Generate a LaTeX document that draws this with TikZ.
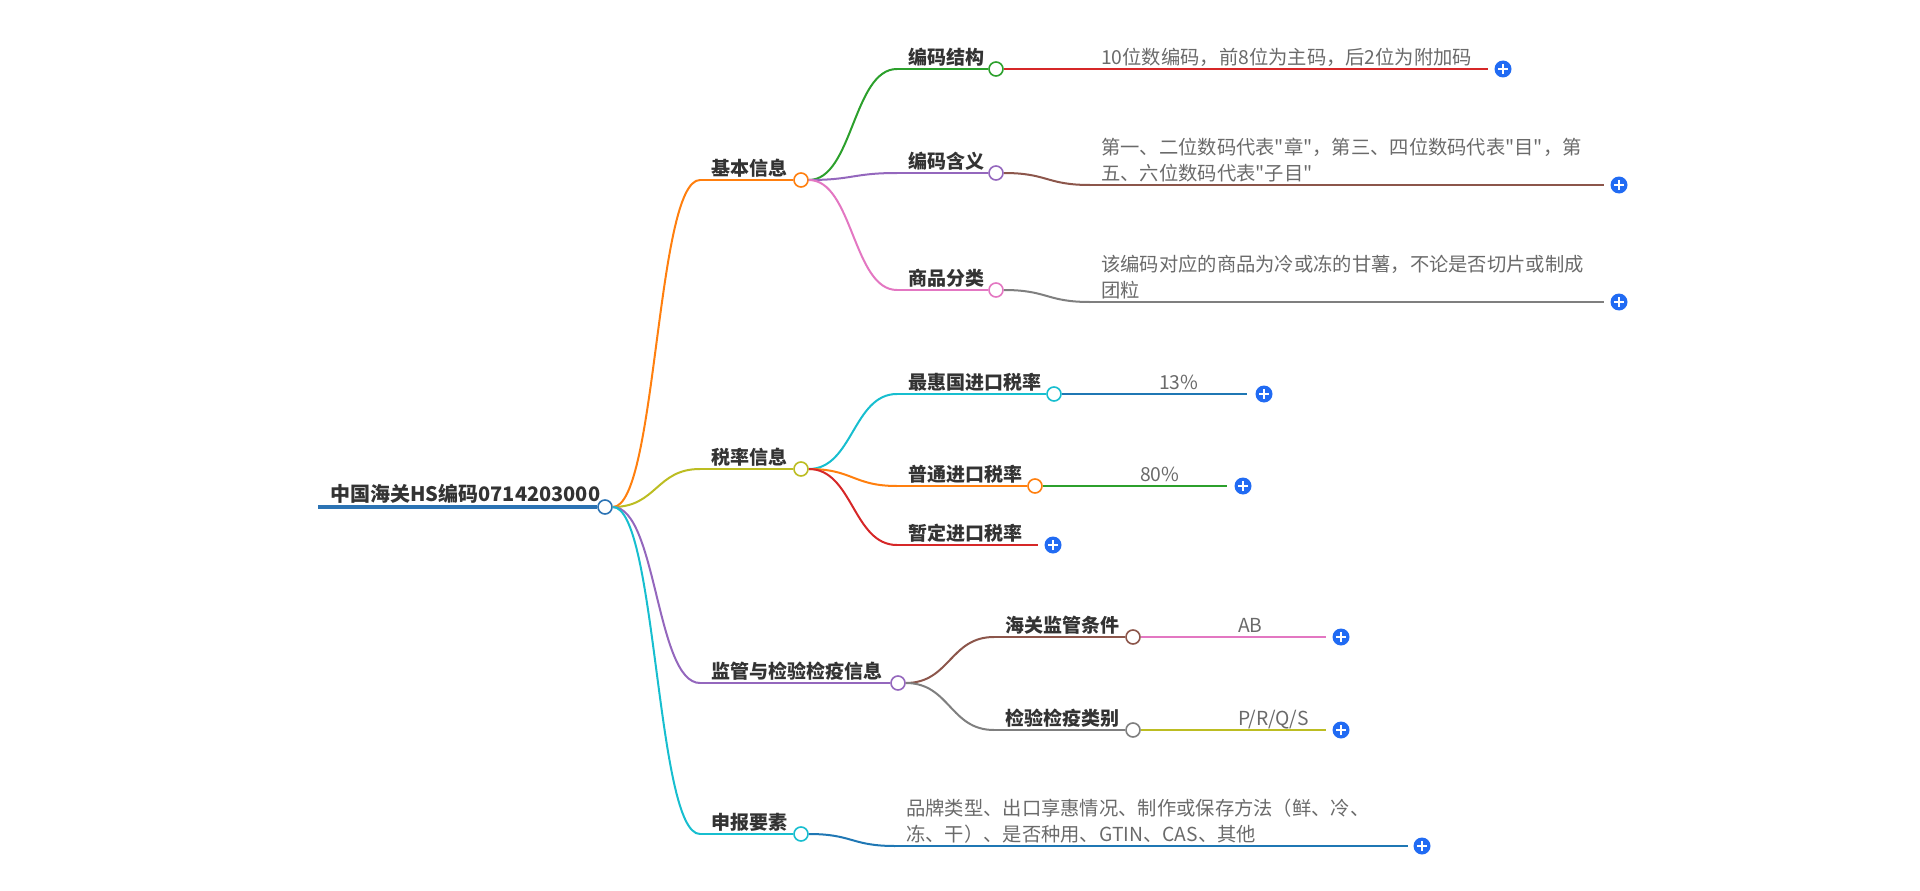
\documentclass[tikz,border=0pt]{standalone}
\usepackage{fontspec}
\setmainfont{Noto Sans CJK SC}
\newfontfamily\qfont{Noto Sans CJK SC}
\usetikzlibrary{calc}
\definecolor{cblue}{HTML}{1F77B4}
\definecolor{corange}{HTML}{FF7F0E}
\definecolor{cgreen}{HTML}{2CA02C}
\definecolor{cred}{HTML}{D62728}
\definecolor{cpurple}{HTML}{9467BD}
\definecolor{cbrown}{HTML}{8C564B}
\definecolor{cpink}{HTML}{E377C2}
\definecolor{cgray}{HTML}{7F7F7F}
\definecolor{colive}{HTML}{BCBD22}
\definecolor{ccyan}{HTML}{17BECF}
\definecolor{rootblue}{HTML}{2B73B4}
\definecolor{plusblue}{HTML}{216BF3}
\definecolor{txtdark}{HTML}{333333}
\definecolor{txtval}{HTML}{6A6A6A}
\newcommand\dq{{\qfont\char34}}
\tikzset{
  dot/.style={circle, draw=#1, fill=white, line width=1.6pt, minimum size=14pt, inner sep=0pt},
  lbl/.style={anchor=base west, inner sep=0pt, text=txtdark, font=\fontsize{19}{26}\selectfont\bfseries},
  rootlbl/.style={anchor=base west, inner sep=0pt, text=txtdark, font=\fontsize{20}{26}\selectfont\bfseries},
  val/.style={anchor=base west, inner sep=0pt, text=txtval, align=left, font=\fontsize{19.3}{26}\selectfont},
  br/.style={line width=2pt, draw=#1},
  plusbtn/.style={circle, fill=plusblue, minimum size=17pt, inner sep=0pt,
    path picture={
      \draw[white, line width=2pt] ([xshift=-5pt]path picture bounding box.center) -- ([xshift=5pt]path picture bounding box.center);
      \draw[white, line width=2pt] ([yshift=-5pt]path picture bounding box.center) -- ([yshift=5pt]path picture bounding box.center);
    }},
}
\newcommand\linkc[3]{\draw[br=#3] (#1) .. controls ($(#1)+(44,0)$) and ($(#2)+(-44,0)$) .. (#2);}
\begin{document}
\begin{tikzpicture}[x=1pt, y=-1pt]
\useasboundingbox (0,0) rectangle (1920,891);

% ---------- root
\coordinate (rs) at (318,507);
\node[dot=rootblue] (root) at (605,507) {};
\draw[line width=4pt, rootblue] (rs) -- (root.west);
\node[rootlbl] (troot) at (330,501) {中国海关HS编码0714203000};

% ---------- level 1
\coordinate (b1s) at (700,180);
\coordinate (b2s) at (700,469);
\coordinate (b3s) at (700,683);
\coordinate (b4s) at (700,834);
\linkc{root.east}{b1s}{corange}
\linkc{root.east}{b2s}{colive}
\linkc{root.east}{b3s}{cpurple}
\linkc{root.east}{b4s}{ccyan}
\node[dot=corange] (b1) at (801,180) {};
\node[dot=colive] (b2) at (801,469) {};
\node[dot=cpurple] (b3) at (898,683) {};
\node[dot=ccyan] (b4) at (801,834) {};
\draw[br=corange] (b1s) -- (b1.west);
\draw[br=colive] (b2s) -- (b2.west);
\draw[br=cpurple] (b3s) -- (b3.west);
\draw[br=ccyan] (b4s) -- (b4.west);
\node[lbl] (tb1) at (711,175) {基本信息};
\node[lbl] (tb2) at (711,464) {税率信息};
\node[lbl] (tb3) at (711,678) {监管与检验检疫信息};
\node[lbl] (tb4) at (711,829) {申报要素};

% ---------- level 2 under 基本信息
\coordinate (c11s) at (897,69);
\coordinate (c12s) at (897,173);
\coordinate (c13s) at (897,290);
\linkc{b1.east}{c11s}{cgreen}
\linkc{b1.east}{c12s}{cpurple}
\linkc{b1.east}{c13s}{cpink}
\node[dot=cgreen] (c11) at (996,69) {};
\node[dot=cpurple] (c12) at (996,173) {};
\node[dot=cpink] (c13) at (996,290) {};
\draw[br=cgreen] (c11s) -- (c11.west);
\draw[br=cpurple] (c12s) -- (c12.west);
\draw[br=cpink] (c13s) -- (c13.west);
\node[lbl] (tc11) at (908,64) {编码结构};
\node[lbl] (tc12) at (908,168) {编码含义};
\node[lbl] (tc13) at (908,285) {商品分类};

% ---------- level 2 under 税率信息
\coordinate (c21s) at (897,394);
\coordinate (c22s) at (897,486);
\coordinate (c23s) at (897,545);
\linkc{b2.east}{c21s}{ccyan}
\linkc{b2.east}{c22s}{corange}
\linkc{b2.east}{c23s}{cred}
\node[dot=ccyan] (c21) at (1054,394) {};
\node[dot=corange] (c22) at (1035,486) {};
\coordinate (c23e) at (1038,545);
\draw[br=ccyan] (c21s) -- (c21.west);
\draw[br=corange] (c22s) -- (c22.west);
\draw[br=cred] (c23s) -- (c23e);
\node[lbl] (tc21) at (908,389) {最惠国进口税率};
\node[lbl] (tc22) at (908,481) {普通进口税率};
\node[lbl] (tc23) at (908,540) {暂定进口税率};
\node[plusbtn] (p23) at (1053,545) {};

% ---------- level 2 under 监管与检验检疫信息
\coordinate (c31s) at (994,637);
\coordinate (c32s) at (994,730);
\linkc{b3.east}{c31s}{cbrown}
\linkc{b3.east}{c32s}{cgray}
\node[dot=cbrown] (c31) at (1133,637) {};
\node[dot=cgray] (c32) at (1133,730) {};
\draw[br=cbrown] (c31s) -- (c31.west);
\draw[br=cgray] (c32s) -- (c32.west);
\node[lbl] (tc31) at (1005,632) {海关监管条件};
\node[lbl] (tc32) at (1005,725) {检验检疫类别};

% ---------- values
% 编码结构
\coordinate (v11s) at (1090,69);
\coordinate (v11e) at (1488,69);
\linkc{c11.east}{v11s}{cred}
\draw[br=cred] (v11s) -- (v11e);
\node[val] (tv11) at (1101,64) {10位数编码，前8位为主码，后2位为附加码};
\node[plusbtn] (p11) at (1503,69) {};

% 编码含义
\coordinate (v12s) at (1090,185);
\coordinate (v12e) at (1604,185);
\linkc{c12.east}{v12s}{cbrown}
\draw[br=cbrown] (v12s) -- (v12e);
\node[val] (tv12) at (1101,180) {第一、二位数码代表\dq 章\dq ，第三、四位数码代表\dq 目\dq ，第\\五、六位数码代表\dq 子目\dq};
\node[plusbtn] (p12) at (1619,185) {};

% 商品分类
\coordinate (v13s) at (1090,302);
\coordinate (v13e) at (1604,302);
\linkc{c13.east}{v13s}{cgray}
\draw[br=cgray] (v13s) -- (v13e);
\node[val] (tv13) at (1101,297) {该编码对应的商品为冷或冻的甘薯，不论是否切片或制成\\团粒};
\node[plusbtn] (p13) at (1619,302) {};

% 最惠国进口税率
\coordinate (v21s) at (1148,394);
\coordinate (v21e) at (1247,394);
\linkc{c21.east}{v21s}{cblue}
\draw[br=cblue] (v21s) -- (v21e);
\node[val] (tv21) at (1159,389) {13\%};
\node[plusbtn] (p21) at (1264,394) {};

% 普通进口税率
\coordinate (v22s) at (1129,486);
\coordinate (v22e) at (1227,486);
\linkc{c22.east}{v22s}{cgreen}
\draw[br=cgreen] (v22s) -- (v22e);
\node[val] (tv22) at (1140,481) {80\%};
\node[plusbtn] (p22) at (1243,486) {};

% 海关监管条件
\coordinate (v31s) at (1227,637);
\coordinate (v31e) at (1326,637);
\linkc{c31.east}{v31s}{cpink}
\draw[br=cpink] (v31s) -- (v31e);
\node[val] (tv31) at (1238,632) {AB};
\node[plusbtn] (p31) at (1341,637) {};

% 检验检疫类别
\coordinate (v32s) at (1227,730);
\coordinate (v32e) at (1326,730);
\linkc{c32.east}{v32s}{colive}
\draw[br=colive] (v32s) -- (v32e);
\node[val] (tv32) at (1238,725) {P/R/Q/S};
\node[plusbtn] (p32) at (1341,730) {};

% 申报要素
\coordinate (v4s) at (895,846);
\coordinate (v4e) at (1408,846);
\linkc{b4.east}{v4s}{cblue}
\draw[br=cblue] (v4s) -- (v4e);
\node[val] (tv4) at (906,841) {品牌类型、出口享惠情况、制作或保存方法（鲜、冷、\\冻、干）、是否种用、GTIN、CAS、其他};
\node[plusbtn] (p4) at (1422,846) {};
\end{tikzpicture}
\end{document}
